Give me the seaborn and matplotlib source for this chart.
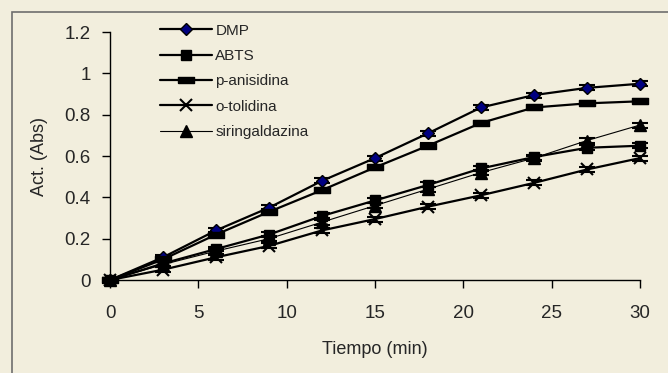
import numpy as np
import pandas as pd
import seaborn as sns
import matplotlib.pyplot as plt
from matplotlib.patches import Rectangle

# Data
tiempo = [0, 3, 6, 9, 12, 15, 18, 21, 24, 27, 30]
dmp = [0.0, 0.11, 0.24, 0.35, 0.48, 0.59, 0.71, 0.835, 0.895, 0.93, 0.95]
abts = [0.0, 0.08, 0.15, 0.22, 0.31, 0.385, 0.46, 0.54, 0.595, 0.64, 0.65]
p_anisidina = [0.0, 0.10, 0.22, 0.33, 0.435, 0.545, 0.65, 0.76, 0.835, 0.855, 0.865]
o_tolidina = [0.0, 0.05, 0.11, 0.165, 0.24, 0.295, 0.355, 0.41, 0.47, 0.535, 0.59]
siringaldazina = [0.0, 0.075, 0.14, 0.20, 0.28, 0.36, 0.44, 0.52, 0.59, 0.675, 0.75]
error = 0.012

series = ['DMP', 'ABTS', 'p-anisidina', 'o-tolidina', 'siringaldazina']
values = [dmp, abts, p_anisidina, o_tolidina, siringaldazina]

df = pd.DataFrame({'Tiempo': tiempo * len(series),
                   'Act': sum(values, []),
                   'serie': np.repeat(series, len(tiempo))})

bg = '#F2EEDD'
sns.set_style('ticks')
plt.rcParams['font.family'] = ['Liberation Sans', 'DejaVu Sans']

fig = plt.figure(figsize=(6.68, 3.73), dpi=100, facecolor=bg)
ax = fig.add_axes([0.1647, 0.2493, 0.7933, 0.6647])
ax.set_facecolor(bg)

# outer frame, cropped at right and bottom
fig.patches.append(Rectangle((12 / 668, -0.1), 1.2, 0.968 + 0.1, transform=fig.transFigure,
                             fill=False, edgecolor='#6e6e6e', linewidth=1.2))

rect = [(-1.0, -0.45), (1.0, -0.45), (1.0, 0.45), (-1.0, 0.45), (-1.0, -0.45)]
styles = {
    'DMP': dict(marker='D', ms=6.5, mfc='#000080', mec='black', mew=1.0, lw=1.6),
    'ABTS': dict(marker='s', ms=7.5, mfc='black', mec='black', lw=1.6),
    'p-anisidina': dict(marker=rect, ms=11, mfc='black', mec='black', lw=1.6),
    'o-tolidina': dict(marker='x', ms=9, mfc='black', mec='black', mew=1.5, lw=1.6),
    'siringaldazina': dict(marker='^', ms=8.5, mfc='black', mec='black', lw=0.8),
}

for name in series:
    st = styles[name]
    sub = df[df['serie'] == name]
    sns.lineplot(data=sub, x='Tiempo', y='Act', ax=ax, color='black',
                 linewidth=st['lw'], marker=st['marker'], markersize=st['ms'],
                 markerfacecolor=st['mfc'], markeredgecolor=st['mec'],
                 markeredgewidth=st.get('mew', 1.0), label=name, zorder=3)
    ax.errorbar(sub['Tiempo'], sub['Act'], yerr=error, fmt='none', ecolor='black',
                elinewidth=1.0, capsize=6, capthick=1.5, zorder=2)

ax.set_xlim(0, 30)
ax.set_ylim(0, 1.2)
ax.set_xticks([0, 5, 10, 15, 20, 25, 30])
ax.set_yticks([0, 0.2, 0.4, 0.6, 0.8, 1.0, 1.2])
ax.set_yticklabels(['0', '0.2', '0.4', '0.6', '0.8', '1', '1.2'])
ax.tick_params(labelsize=13.5, length=6, width=1, color='black')
ax.tick_params(axis='x', pad=12)
ax.tick_params(axis='y', pad=8)
for line in ax.lines:
    line.set_clip_on(False)
sns.despine(ax=ax)
for s in ['left', 'bottom']:
    ax.spines[s].set_linewidth(1.0)
    ax.spines[s].set_color('black')

ax.set_xlabel('Tiempo (min)', fontsize=13, labelpad=14)
ax.set_ylabel('Act. (Abs)', fontsize=13, labelpad=12)

leg = ax.legend(loc='upper left', bbox_to_anchor=(152 / 668, 1 - 16 / 373),
                bbox_transform=fig.transFigure, frameon=False, fontsize=11,
                handlelength=3.4, handletextpad=0.25, labelspacing=0.74,
                borderpad=0)

fig.savefig('out.png', dpi=100, facecolor=bg)
